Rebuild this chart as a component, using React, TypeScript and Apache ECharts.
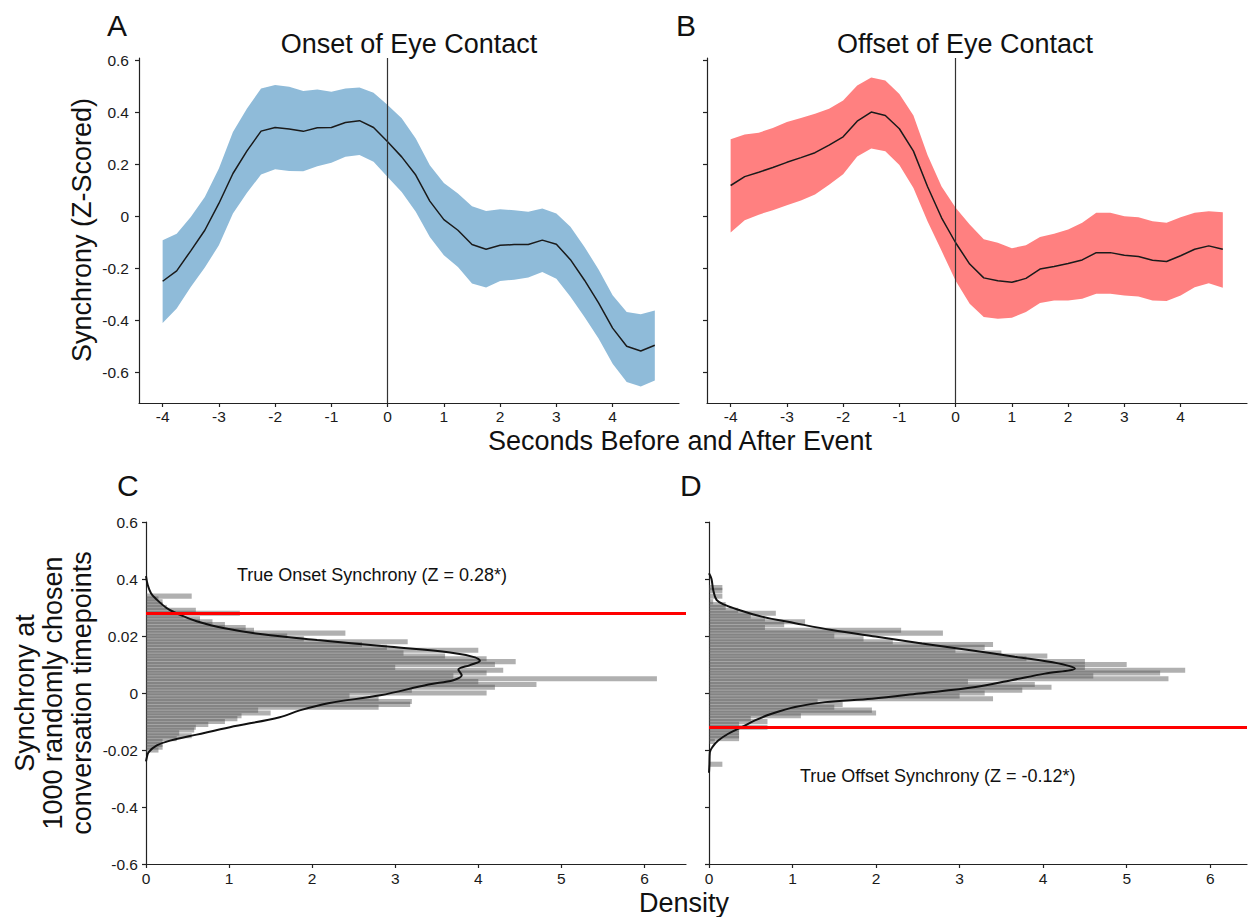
import React, { useEffect, useRef } from "react";
import * as echarts from "echarts";

// ---------- DATA ----------
const times = [-4, -3.75, -3.5, -3.25, -3, -2.75, -2.5, -2.25, -2, -1.75, -1.5, -1.25, -1, -0.75, -0.5, -0.25, 0, 0.25, 0.5, 0.75, 1, 1.25, 1.5, 1.75, 2, 2.25, 2.5, 2.75, 3, 3.25, 3.5, 3.75, 4, 4.25, 4.5, 4.75];

const onsetMean = [-0.25, -0.21, -0.133, -0.054, 0.049, 0.164, 0.251, 0.327, 0.341, 0.335, 0.326, 0.34, 0.341, 0.36, 0.367, 0.341, 0.286, 0.228, 0.158, 0.058, -0.013, -0.054, -0.109, -0.127, -0.112, -0.109, -0.109, -0.092, -0.108, -0.167, -0.246, -0.333, -0.43, -0.5, -0.518, -0.496];
const onsetUpper = [-0.092, -0.067, -0.003, 0.074, 0.183, 0.324, 0.414, 0.491, 0.504, 0.497, 0.481, 0.487, 0.478, 0.491, 0.495, 0.474, 0.427, 0.376, 0.299, 0.196, 0.128, 0.087, 0.038, 0.02, 0.027, 0.023, 0.017, 0.03, 0.01, -0.041, -0.118, -0.205, -0.304, -0.368, -0.377, -0.362];
const onsetLower = [-0.41, -0.355, -0.272, -0.197, -0.112, 0.01, 0.09, 0.16, 0.18, 0.174, 0.173, 0.192, 0.205, 0.228, 0.235, 0.209, 0.151, 0.093, 0.017, -0.08, -0.15, -0.195, -0.259, -0.274, -0.249, -0.244, -0.236, -0.214, -0.24, -0.31, -0.387, -0.47, -0.567, -0.637, -0.654, -0.631];

const offsetMean = [0.118, 0.152, 0.169, 0.187, 0.207, 0.225, 0.244, 0.273, 0.305, 0.365, 0.4, 0.387, 0.336, 0.25, 0.114, -0.006, -0.102, -0.184, -0.237, -0.248, -0.254, -0.239, -0.203, -0.193, -0.182, -0.168, -0.14, -0.14, -0.15, -0.155, -0.169, -0.174, -0.152, -0.127, -0.114, -0.127];
const offsetUpper = [0.296, 0.314, 0.321, 0.339, 0.362, 0.377, 0.394, 0.413, 0.445, 0.502, 0.533, 0.521, 0.47, 0.387, 0.235, 0.114, 0.032, -0.032, -0.089, -0.102, -0.123, -0.112, -0.08, -0.067, -0.051, -0.025, 0.013, 0.013, 0.0, -0.004, -0.019, -0.025, -0.004, 0.013, 0.019, 0.015];
const offsetLower = [-0.063, -0.016, 0.006, 0.023, 0.042, 0.06, 0.083, 0.121, 0.161, 0.229, 0.26, 0.25, 0.197, 0.108, -0.019, -0.133, -0.248, -0.336, -0.387, -0.394, -0.39, -0.368, -0.334, -0.324, -0.324, -0.317, -0.298, -0.298, -0.305, -0.309, -0.324, -0.326, -0.305, -0.273, -0.258, -0.275];

// histogram bins (y centre) and density lengths
const onsetBinY = [0.34, 0.33, 0.32, 0.31, 0.3, 0.29, 0.28, 0.27, 0.26, 0.25, 0.24, 0.23, 0.22, 0.21, 0.2, 0.19, 0.18, 0.17, 0.16, 0.15, 0.14, 0.13, 0.12, 0.11, 0.1, 0.09, 0.08, 0.07, 0.06, 0.05, 0.04, 0.03, 0.02, 0.01, 0, -0.01, -0.02, -0.03, -0.04, -0.05, -0.06, -0.07, -0.08, -0.09, -0.1, -0.11, -0.12, -0.13, -0.14, -0.15, -0.16, -0.17, -0.18, -0.19, -0.2];
const onsetBinDensity = [0.55, 0.15, 0.2, 0.2, 0.25, 0.6, 1.13, 0.45, 0.65, 0.8, 0.95, 1.2, 1.3, 2.4, 1.7, 1.9, 3.15, 2.6, 2.9, 4.0, 3.1, 3.6, 4.1, 4.45, 4.2, 3.0, 4.3, 4.1, 3.7, 6.15, 4.0, 4.7, 4.2, 3.2, 4.1, 2.45, 2.8, 3.2, 3.18, 2.8, 1.35, 1.5, 1.15, 1.1, 0.95, 0.75, 0.6, 0.58, 0.4, 0.55, 0.37, 0.2, 0.2, 0.2, 0.15];

const offsetBinY = [0.37, 0.36, 0.35, 0.34, 0.33, 0.32, 0.31, 0.3, 0.29, 0.28, 0.27, 0.26, 0.25, 0.24, 0.23, 0.22, 0.21, 0.2, 0.19, 0.18, 0.17, 0.16, 0.15, 0.14, 0.13, 0.12, 0.11, 0.1, 0.09, 0.08, 0.07, 0.06, 0.05, 0.04, 0.03, 0.02, 0.01, 0, -0.01, -0.02, -0.03, -0.04, -0.05, -0.06, -0.07, -0.08, -0.09, -0.1, -0.11, -0.12, -0.13, -0.14, -0.15, -0.16, -0.17, -0.18, -0.19, -0.2, -0.21, -0.22, -0.23, -0.24, -0.25];
const offsetBinDensity = [0.16, 0.16, 0, 0.16, 0, 0.05, 0.2, 0.2, 0.35, 0.8, 0.5, 0.67, 1.15, 0.9, 0.67, 2.3, 2.8, 1.5, 1.85, 2.2, 3.4, 3.3, 2.95, 3.5, 4.05, 3.8, 4.5, 5.0, 4.5, 5.7, 5.4, 4.6, 5.5, 3.1, 3.9, 4.1, 3.75, 3.3, 3.0, 3.4, 1.3, 1.6, 1.5, 1.95, 2.0, 1.1, 0.5, 0.7, 0.36, 0.7, 0.36, 0.36, 0.36, 0.36, 0.07, 0, 0, 0, 0, 0, 0, 0, 0.16];

// kernel density curves (density, synchrony)
const onsetKdeX = [0.0, 0.02, 0.06, 0.11, 0.25, 0.41, 0.61, 0.93, 1.4, 2.06, 2.94, 3.66, 3.96, 4.02, 3.9, 3.76, 3.8, 3.7, 3.4, 2.82, 2.21, 1.85, 1.61, 1.01, 0.61, 0.29, 0.13, 0.03, 0.01, 0.0];
const onsetKdeY = [0.41, 0.38, 0.35, 0.333, 0.298, 0.274, 0.252, 0.228, 0.206, 0.186, 0.162, 0.142, 0.125, 0.113, 0.098, 0.082, 0.062, 0.045, 0.03, -0.008, -0.035, -0.061, -0.085, -0.12, -0.146, -0.167, -0.184, -0.208, -0.226, -0.24];
const offsetKdeX = [0.0, 0.03, 0.05, 0.09, 0.19, 0.35, 0.63, 1.03, 1.47, 1.99, 2.55, 3.11, 3.66, 4.18, 4.38, 4.02, 3.62, 3.19, 2.51, 1.95, 1.39, 1.03, 0.75, 0.55, 0.39, 0.23, 0.11, 0.04, 0.01, 0.005, 0.0];
const offsetKdeY = [0.42, 0.4, 0.362, 0.327, 0.309, 0.292, 0.268, 0.245, 0.221, 0.198, 0.174, 0.151, 0.127, 0.104, 0.086, 0.068, 0.045, 0.021, -0.002, -0.02, -0.032, -0.049, -0.073, -0.096, -0.12, -0.143, -0.167, -0.19, -0.208, -0.25, -0.28];

const trueOnset = 0.28;
const trueOffset = -0.117;

const topYTicks = [-0.6, -0.4, -0.2, 0, 0.2, 0.4, 0.6];
const topYLabels = ["-0.6", "-0.4", "-0.2", "0", "0.2", "0.4", "0.6"];
const topXTicks = [-4, -3, -2, -1, 0, 1, 2, 3, 4];
const topXLabels = ["-4", "-3", "-2", "-1", "0", "1", "2", "3", "4"];
const histYTicks = [-0.6, -0.4, -0.2, 0, 0.2, 0.4, 0.6];
const histYLabels = ["-0.6", "-0.4", "-0.02", "0", "0.02", "0.4", "0.6"];
const histXTicks = [0, 1, 2, 3, 4, 5, 6];
const histXLabels = ["0", "1", "2", "3", "4", "5", "6"];

// ---------- helpers ----------
const FONT = '"Liberation Sans", Arial, sans-serif';
const AXIS_COLOR = "#222";

function labelFor(ticks: number[], labels: string[]) {
  return (v: number) => {
    let best = 0;
    for (let i = 1; i < ticks.length; i++) {
      if (Math.abs(ticks[i] - v) < Math.abs(ticks[best] - v)) best = i;
    }
    return labels[best];
  };
}

function axis(gridIndex: number, min: number, max: number, ticks: number[], labels: string[], showLabels: boolean, margin: number) {
  return {
    type: "value",
    gridIndex,
    min,
    max,
    axisLine: { show: true, onZero: false, lineStyle: { color: AXIS_COLOR, width: 1.2 } },
    axisTick: { show: true, inside: false, length: 4, customValues: ticks, lineStyle: { color: AXIS_COLOR, width: 1.2 } },
    axisLabel: {
      show: showLabels,
      customValues: ticks,
      margin,
      color: "#1a1a1a",
      fontSize: 15.5,
      fontFamily: FONT,
      formatter: labelFor(ticks, labels),
    },
    splitLine: { show: false },
  };
}

function bandSeries(idx: number, lower: number[], upper: number[], color: string) {
  return {
    type: "custom",
    xAxisIndex: idx,
    yAxisIndex: idx,
    silent: true,
    z: 1,
    data: times.map((t, i) => [t, lower[i], upper[i]]),
    renderItem: (params: any, api: any) => {
      if (params.dataIndex !== 0) return null;
      const pts: number[][] = [];
      for (let i = 0; i < times.length; i++) pts.push(api.coord([times[i], upper[i]]));
      for (let i = times.length - 1; i >= 0; i--) pts.push(api.coord([times[i], lower[i]]));
      return { type: "polygon", shape: { points: pts }, style: { fill: color } };
    },
  };
}

function meanSeries(idx: number, mean: number[]) {
  return {
    type: "line",
    xAxisIndex: idx,
    yAxisIndex: idx,
    data: times.map((t, i) => [t, mean[i]]),
    symbol: "none",
    lineStyle: { color: "#1a1a1a", width: 1.5 },
    z: 3,
    silent: true,
    markLine: {
      silent: true,
      symbol: ["none", "none"],
      label: { show: false },
      lineStyle: { color: "#333", width: 1.2, type: "solid" },
      data: [{ xAxis: 0 }],
      z: 4,
    },
  };
}

const BIN_STEP = 0.01;
function histSeries(idx: number, ys: number[], ds: number[]) {
  return {
    type: "custom",
    xAxisIndex: idx,
    yAxisIndex: idx,
    silent: true,
    z: 1,
    data: ys.map((y, i) => [ds[i], y]),
    renderItem: (params: any, api: any) => {
      const d = api.value(0);
      const y = api.value(1);
      if (!(d > 0)) return null;
      const h = BIN_STEP * 0.9;
      const p0 = api.coord([0, y + h]);
      const p1 = api.coord([d, y - h]);
      return {
        type: "rect",
        shape: { x: p0[0], y: p0[1], width: p1[0] - p0[0], height: p1[1] - p0[1] },
        style: { fill: "rgba(80,80,80,0.45)" },
      };
    },
  };
}

function kdeSeries(idx: number, xs: number[], ys: number[], redY: number) {
  return {
    type: "line",
    xAxisIndex: idx,
    yAxisIndex: idx,
    data: xs.map((x, i) => [x, ys[i]]),
    symbol: "none",
    smooth: 0.35,
    lineStyle: { color: "#111", width: 2 },
    z: 3,
    silent: true,
    markLine: {
      silent: true,
      symbol: ["none", "none"],
      label: { show: false },
      lineStyle: { color: "#ff0000", width: 3, type: "solid" },
      data: [{ yAxis: redY }],
      z: 4,
    },
  };
}

function txt(text: string, x: number, y: number, size: number, align: string, rotation = 0) {
  return {
    type: "text",
    x,
    y,
    rotation,
    silent: true,
    style: {
      text,
      font: `${size}px ${FONT}`,
      fill: "#111",
      align,
      verticalAlign: "middle",
      textAlign: align,
      textVerticalAlign: "middle",
    },
  };
}

const TOP_Y_MIN = -0.7178;
const TOP_Y_MAX = 0.6079;
const TOP_X_MIN = -4.42;
const TOP_X_MAX = 5.18;

export default function App() {
  const ref = useRef<HTMLDivElement>(null);
  useEffect(() => {
    document.body.style.margin = "0";
    if (!ref.current) return;
    const chart = echarts.init(ref.current, undefined, { renderer: "svg" });
    const option: any = {
      animation: false,
      backgroundColor: "#ffffff",
      grid: [
        { left: 139, top: 58, width: 540, height: 345 },
        { left: 707, top: 58, width: 540, height: 345 },
        { left: 146, top: 522, width: 540, height: 342 },
        { left: 709, top: 522, width: 538, height: 342 },
      ],
      xAxis: [
        axis(0, TOP_X_MIN, TOP_X_MAX, topXTicks, topXLabels, true, 5),
        axis(1, TOP_X_MIN, TOP_X_MAX, topXTicks, topXLabels, true, 5),
        axis(2, 0, 6.5, histXTicks, histXLabels, true, 6),
        axis(3, 0, 6.44, histXTicks, histXLabels, true, 6),
      ],
      yAxis: [
        axis(0, TOP_Y_MIN, TOP_Y_MAX, topYTicks, topYLabels, true, 10),
        axis(1, TOP_Y_MIN, TOP_Y_MAX, topYTicks, topYLabels, false, 10),
        axis(2, -0.6, 0.6, histYTicks, histYLabels, true, 8),
        axis(3, -0.6, 0.6, histYTicks, histYLabels, false, 8),
      ],
      series: [
        bandSeries(0, onsetLower, onsetUpper, "#8fbbd9"),
        meanSeries(0, onsetMean),
        bandSeries(1, offsetLower, offsetUpper, "#ff8080"),
        meanSeries(1, offsetMean),
        histSeries(2, onsetBinY, onsetBinDensity),
        kdeSeries(2, onsetKdeX, onsetKdeY, trueOnset),
        histSeries(3, offsetBinY, offsetBinDensity),
        kdeSeries(3, offsetKdeX, offsetKdeY, trueOffset),
      ],
      graphic: [
        txt("A", 107, 25, 30, "left"),
        txt("B", 676, 25, 30, "left"),
        txt("C", 117, 485, 30, "left"),
        txt("D", 680, 485, 30, "left"),
        txt("Onset of Eye Contact", 409, 44, 27, "center"),
        txt("Offset of Eye Contact", 965, 44, 27, "center"),
        txt("Synchrony (Z-Scored)", 82, 230, 27, "center", Math.PI / 2),
        txt("Seconds Before and After Event", 680, 441, 27, "center"),
        txt("Synchrony at", 25, 693, 27, "center", Math.PI / 2),
        txt("1000 randomly chosen", 53, 693, 27, "center", Math.PI / 2),
        txt("conversation timepoints", 82, 693, 27, "center", Math.PI / 2),
        txt("Density", 684, 903, 27, "center"),
        txt("True Onset Synchrony (Z = 0.28*)", 237, 575, 18, "left"),
        txt("True Offset Synchrony (Z = -0.12*)", 800, 776, 18, "left"),
      ],
    };
    chart.setOption(option);
    return () => chart.dispose();
  }, []);
  return <div ref={ref} style={{ width: 1248, height: 917 }} />;
}
